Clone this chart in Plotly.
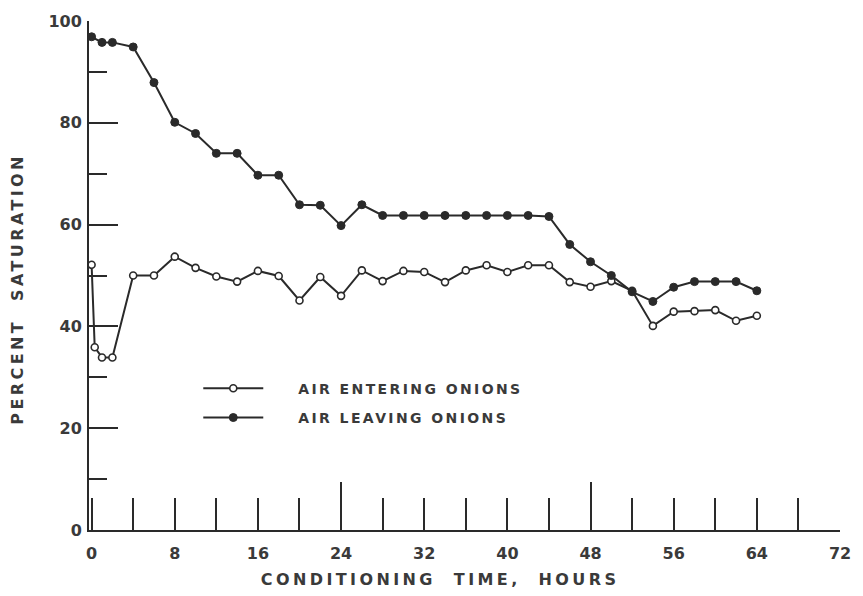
import plotly.graph_objects as go

# ---- data ----
entering_hours = [0, 0.3, 1, 2, 4, 6, 8, 10, 12, 14, 16, 18, 20, 22, 24, 26, 28, 30, 32,
                  34, 36, 38, 40, 42, 44, 46, 48, 50, 52, 54, 56, 58, 60, 62, 64]
entering_sat = [52.1, 35.9, 33.9, 33.9, 50.0, 50.0, 53.7, 51.5, 49.8, 48.8, 50.9, 49.9, 45.1,
                49.7, 46.0, 51.0, 48.9, 50.9, 50.7, 48.7, 51.0, 52.0, 50.7, 52.0, 52.0, 48.7,
                47.8, 48.9, 47.0, 40.1, 42.9, 43.0, 43.2, 41.1, 42.1]

leaving_hours = [0, 1, 2, 4, 6, 8, 10, 12, 14, 16, 18, 20, 22, 24, 26, 28, 30, 32, 34, 36,
                 38, 40, 42, 44, 46, 48, 50, 52, 54, 56, 58, 60, 62, 64]
leaving_sat = [96.9, 95.8, 95.8, 94.9, 87.9, 80.1, 77.9, 74.0, 74.0, 69.7, 69.7, 63.9, 63.8,
               59.8, 63.9, 61.8, 61.8, 61.8, 61.8, 61.8, 61.8, 61.8, 61.8, 61.6, 56.1, 52.7,
               50.0, 46.8, 44.9, 47.7, 48.8, 48.8, 48.8, 47.0]

x_tick_vals = [0, 8, 16, 24, 32, 40, 48, 56, 64, 72]
x_tick_text = ["0", "8", "16", "24", "32", "40", "48", "56", "64", "72"]
x_long_ticks = [24, 48, 72]
y_tick_vals = [0, 20, 40, 60, 80, 100]
y_tick_text = ["0", "20", "40", "60", "80", "100"]

series_names = ["AIR ENTERING ONIONS", "AIR LEAVING ONIONS"]
x_title = "CONDITIONING  TIME,  HOURS"
y_title = "PERCENT  SATURATION"

INK = "#2a2a2a"
TXT = "#3a3a3a"
FONT = "DejaVu Sans"

fig = go.Figure()
fig.add_trace(go.Scatter(
    x=entering_hours, y=entering_sat, mode="lines+markers", name=series_names[0],
    legendgroup="a",
    line=dict(color=INK, width=2),
    marker=dict(symbol="circle", size=7, color="white", line=dict(color=INK, width=1.6)),
))
fig.add_trace(go.Scatter(
    x=leaving_hours, y=leaving_sat, mode="lines+markers", name=series_names[1],
    legendgroup="b",
    line=dict(color=INK, width=2),
    marker=dict(symbol="circle", size=8, color=INK, line=dict(color=INK, width=1)),
))
# empty trace so the overlay axis carrying the long ticks is drawn
fig.add_trace(go.Scatter(x=[], y=[], xaxis="x2", showlegend=False, hoverinfo="skip"))

XR = [-0.25, 72.0]
fig.update_layout(
    width=863, height=596,
    margin=dict(l=89, r=15, t=19, b=66),
    paper_bgcolor="white", plot_bgcolor="white",
    font=dict(family=FONT, color=TXT),
    showlegend=True,
    legend=dict(x=0.1455, y=0.309, xanchor="left", yanchor="top",
                bgcolor="rgba(0,0,0,0)",
                font=dict(size=14, family=FONT, color=TXT, weight="bold"),
                traceorder="grouped", tracegroupgap=8, itemwidth=60),
    xaxis=dict(range=XR, showline=True, linecolor=INK, linewidth=2,
               showgrid=False, zeroline=False,
               tickmode="array", tickvals=x_tick_vals, ticktext=x_tick_text,
               ticks="inside", ticklen=32, tickwidth=2, tickcolor=INK,
               ticklabelstandoff=8,
               tickfont=dict(size=16, family=FONT, color=TXT, weight="bold"),
               minor=dict(dtick=4, tick0=0, ticks="inside", ticklen=32, tickwidth=2, tickcolor=INK)),
    xaxis2=dict(range=XR, overlaying="x", anchor="y", side="bottom",
                showline=False, showgrid=False, zeroline=False, showticklabels=False,
                tickmode="array", tickvals=x_long_ticks,
                ticks="inside", ticklen=48, tickwidth=2, tickcolor=INK),
    yaxis=dict(range=[0, 100], showline=True, linecolor=INK, linewidth=2,
               showgrid=False, zeroline=False,
               tickmode="array", tickvals=y_tick_vals, ticktext=y_tick_text,
               ticks="inside", ticklen=29, tickwidth=2, tickcolor=INK,
               ticklabelstandoff=2,
               tickfont=dict(size=16, family=FONT, color=TXT, weight="bold"),
               minor=dict(dtick=10, tick0=0, ticks="inside", ticklen=18, tickwidth=2, tickcolor=INK)),
    annotations=[
        dict(text=x_title, xref="paper", yref="paper", x=0.467, y=-0.098,
             xanchor="center", yanchor="middle", showarrow=False,
             font=dict(size=16, family=FONT, color=TXT, weight="bold")),
        dict(text=y_title, xref="paper", yref="paper", x=-0.095, y=0.474,
             xanchor="center", yanchor="middle", showarrow=False, textangle=-90,
             font=dict(size=16, family=FONT, color=TXT, weight="bold")),
    ],
)

post = """
document.body.style.margin = '0';
var gd = document.getElementById('{plot_id}');
gd.querySelectorAll('.annotation-text').forEach(function(t){ t.style.letterSpacing = '3.4px'; });
gd.querySelectorAll('.legendtext').forEach(function(t){
    t.style.letterSpacing = '2.4px';
    t.setAttribute('x', parseFloat(t.getAttribute('x') || 0) + 30);
});
gd.querySelectorAll('.legend .scrollbox').forEach(function(s){ s.removeAttribute('clip-path'); });
"""
fig.write_html("out.html", post_script=post, config={"displayModeBar": False})
